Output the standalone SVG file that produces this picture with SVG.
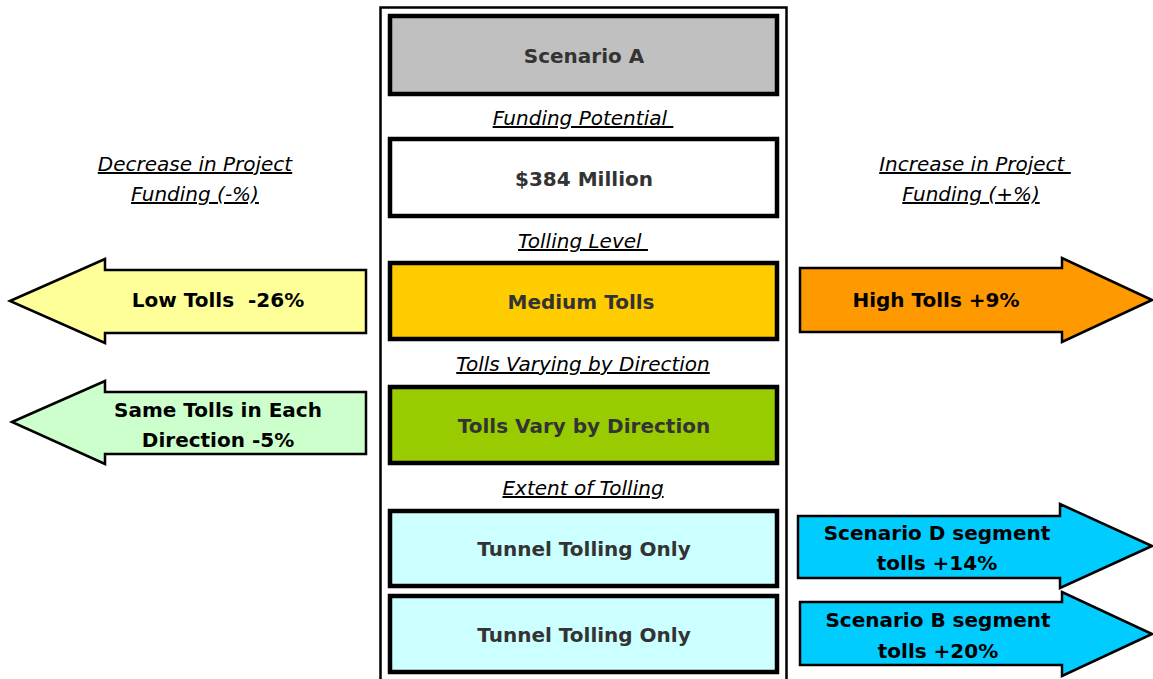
<svg xmlns="http://www.w3.org/2000/svg" width="1153" height="679" viewBox="0 0 1153 679">
<style>
.box{stroke:#000;stroke-width:4.5}
.arr{stroke:#000;stroke-width:2.5;stroke-linejoin:miter}
.bt{font-family:"DejaVu Sans",Verdana,sans-serif;font-weight:bold;font-size:20px;fill:#333;text-anchor:middle;dominant-baseline:central}
.at{font-family:"DejaVu Sans",Verdana,sans-serif;font-weight:bold;font-size:20px;fill:#000;text-anchor:middle;dominant-baseline:central;white-space:pre}
.lab{font-family:"DejaVu Sans",Verdana,sans-serif;font-style:italic;font-size:20px;fill:#000;text-anchor:middle;text-decoration:underline;white-space:pre}
.frame{stroke:#000;stroke-width:2.5;fill:none}
</style>
<rect width="1153" height="679" fill="#fff"/>
<g id="frame">
<path class="frame" d="M380.5,679 V7.5 H786.5 V679"/>
</g>
<g id="labels">
<text class="lab" x="583" y="125">Funding Potential </text>
<text class="lab" x="583" y="248">Tolling Level </text>
<text class="lab" x="583" y="371">Tolls Varying by Direction</text>
<text class="lab" x="583" y="495">Extent of Tolling</text>
<text class="lab" x="195" y="171">Decrease in Project</text>
<text class="lab" x="195" y="201">Funding (-%)</text>
<text class="lab" x="975" y="171">Increase in Project </text>
<text class="lab" x="971" y="201">Funding (+%)</text>
</g>
<g id="scenarioA">
<rect class="box" x="390" y="16" width="387" height="78" fill="#c0c0c0"/>
<text class="bt" x="584" y="56">Scenario A</text>
</g>
<g id="funding">
<rect class="box" x="390" y="139" width="387" height="77" fill="#fff"/>
<text class="bt" x="584" y="179">$384 Million</text>
</g>
<g id="medium">
<rect class="box" x="390" y="263" width="387" height="76" fill="#ffcc00"/>
<text class="bt" x="581" y="302">Medium Tolls</text>
</g>
<g id="vary">
<rect class="box" x="390" y="387" width="387" height="76" fill="#99cc00"/>
<text class="bt" x="584" y="426">Tolls Vary by Direction</text>
</g>
<g id="tunnel1">
<rect class="box" x="390" y="511" width="387" height="75" fill="#ccffff"/>
<text class="bt" x="584" y="549">Tunnel Tolling Only</text>
</g>
<g id="tunnel2">
<rect class="box" x="390" y="596" width="387" height="76" fill="#ccffff"/>
<text class="bt" x="584" y="635">Tunnel Tolling Only</text>
</g>
<g id="connectors">
<g id="lowTolls">
<polygon class="arr" fill="#ffff99" points="10,301 105,259 105,270 366,270 366,333 105,333 105,343"/>
<text class="at" x="218" y="300">Low Tolls  -26%</text>
</g>
<g id="sameTolls">
<polygon class="arr" fill="#ccffcc" points="12,422 105,381 105,392 366,392 366,454 105,454 105,464"/>
<text class="at" x="218" y="410">Same Tolls in Each</text>
<text class="at" x="218" y="440">Direction -5%</text>
</g>
<g id="highTolls">
<polygon class="arr" fill="#ff9900" points="800,268 1062,268 1062,258 1152,300 1062,342 1062,332 800,332"/>
<text class="at" x="936" y="300">High Tolls +9%</text>
</g>
<g id="scenD">
<polygon class="arr" fill="#00ccff" points="798,516 1060,516 1060,504 1152,546 1060,588 1060,578 798,578"/>
<text class="at" x="937" y="533">Scenario D segment</text>
<text class="at" x="937" y="563">tolls +14%</text>
</g>
<g id="scenB">
<polygon class="arr" fill="#00ccff" points="800,602 1062,602 1062,592 1152,634 1062,676 1062,665 800,665"/>
<text class="at" x="938" y="620">Scenario B segment</text>
<text class="at" x="938" y="651">tolls +20%</text>
</g>
</g>
</svg>
